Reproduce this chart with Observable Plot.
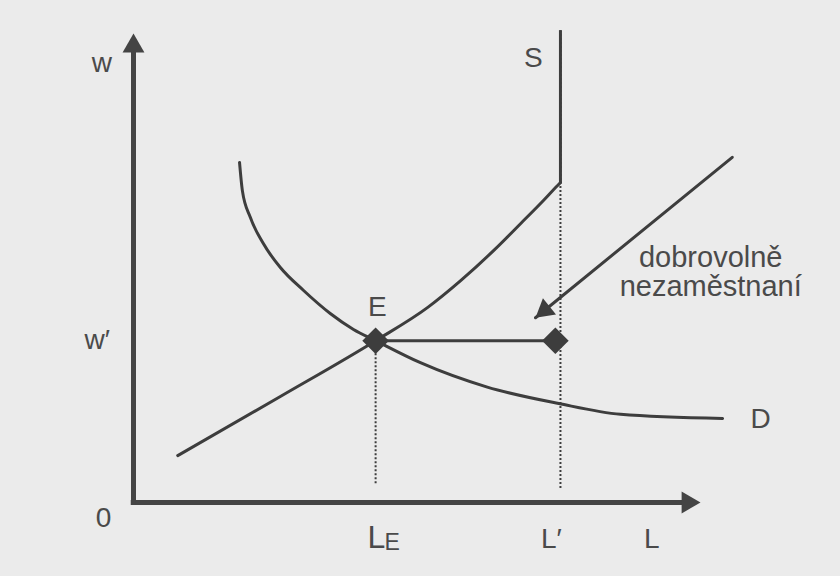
<!DOCTYPE html>
<html><head><meta charset="utf-8">
<script src="https://cdn.jsdelivr.net/npm/d3@7"></script>
<script src="https://cdn.jsdelivr.net/npm/@observablehq/plot@0.6"></script>
<style>
body{margin:0;background:#ebebeb;}
#chart svg{display:block;font-family:"Liberation Sans",Arial,sans-serif;}
</style>
</head><body><div id="chart"></div>
<script>
// key values (abstract units: L on x, w on y, 0..100)
const LE = 42.7, Lp = 75.3, wE = 34.5, LpMark = 74.4;
// supply curve S (upward part) and its vertical part at L'
const supplyL = [7.8, 25.9, 42.7, 51.9, 57.7, 63.5, 68.3, 72.3, 74.8, 75.3];
const supplyW = [10.0, 22.6, 34.5, 41.6, 47.3, 53.7, 59.5, 64.4, 67.6, 68.2];
const supplyTopW = 100.6;
// demand curve D
const demandL = [18.7, 19.2, 20.6, 22.9, 25.9, 30.0, 34.7, 38.8, 42.7, 50.6, 62.4, 75.0, 85.9, 103.9];
const demandW = [72.5, 66.5, 60.8, 55.2, 50.1, 45.2, 40.3, 36.9, 34.5, 29.8, 24.6, 21.1, 18.8, 17.9];
// pointer arrow for "dobrovolně nezaměstnaní"
const pointerL = [105.6, 70.9];
const pointerW = [73.6, 39.4];
// labels
const labelText = ["w", "w′", "0", "E", "S", "D", "L′", "L"];
const labelL = [-5.6, -6.4, -5.3, 43.0, 70.5, 110.6, 73.7, 91.4];
const labelW = [91.7, 32.8, -5.3, 39.7, 92.8, 15.8, -9.6, -9.6];
const noteLines = ["dobrovolně", "nezaměstnaní"];
const noteL = 101.8, noteW = [50.3, 44.1];

const ink = "#3d3d3d", txt = "#4a4a4a";
const supply = supplyL.map((x, i) => ({x, y: supplyW[i]}));
const demand = demandL.map((x, i) => ({x, y: demandW[i]}));
const labels = labelText.map((t, i) => ({t, x: labelL[i], y: labelW[i]}));
const pointer = pointerL.map((x, i) => ({x, y: pointerW[i]}));

const chart = Plot.plot({
  width: 840, height: 576,
  marginLeft: 133, marginRight: 140, marginTop: 33, marginBottom: 74,
  x: {domain: [0, 100], axis: null},
  y: {domain: [0, 100], axis: null},
  style: {background: "#ebebeb", color: txt},
  marks: [
    // dotted guides
    Plot.ruleX([LE], {y1: 4.0, y2: wE, stroke: ink, strokeWidth: 2, strokeDasharray: "2,2"}),
    Plot.ruleX([Lp], {y1: 3.0, y2: supplyTopW, stroke: ink, strokeWidth: 2, strokeDasharray: "2,2"}),
    // axes
    Plot.ruleX([0], {y1: 0, y2: 97, stroke: "#444", strokeWidth: 5}),
    Plot.ruleY([0], {x1: 0, x2: 97, stroke: "#444", strokeWidth: 5}),
    Plot.ruleY([0], {x1: -0.4, x2: 0.4, stroke: "#444", strokeWidth: 5}),
    Plot.dot([{x: 0, y: 100}], {x: "x", y: "y", symbol: "triangle", r: 8.1, fill: "#444", stroke: "none", dy: 12.6}),
    Plot.dot([{x: 100, y: 0}], {x: "x", y: "y", symbol: "triangle", r: 8.1, fill: "#444", stroke: "none", dx: -12.6, rotate: 90}),
    // curves
    Plot.line(demand, {x: "x", y: "y", curve: "monotone-x", stroke: ink, strokeWidth: 3}),
    Plot.line(supply, {x: "x", y: "y", curve: "monotone-x", stroke: ink, strokeWidth: 3}),
    Plot.ruleX([Lp], {y1: supplyW[supplyW.length - 1], y2: supplyTopW, stroke: ink, strokeWidth: 3}),
    // horizontal segment at w'
    Plot.ruleY([wE], {x1: LE, x2: LpMark, stroke: ink, strokeWidth: 3}),
    Plot.dot([{x: LE, y: wE}, {x: LpMark, y: wE}], {x: "x", y: "y", symbol: "diamond2", r: 12, fill: ink, stroke: "none"}),
    // pointer arrow
    Plot.line(pointer, {x: "x", y: "y", stroke: ink, strokeWidth: 3}),
    Plot.dot([pointer[1]], {x: "x", y: "y", symbol: "triangle", r: 7.7, fill: ink, stroke: "none", rotate: -129, dx: 9.3, dy: -7.6}),
    // labels
    Plot.text(labels, {x: "x", y: "y", text: "t", fontSize: 28, lineAnchor: "bottom", fill: txt}),
    Plot.text(["L"], {x: LE, y: -9.6, text: d => d, fontSize: 32, textAnchor: "start", lineAnchor: "bottom", dx: -8, fill: txt}),
    Plot.text(["E"], {x: LE, y: -10.2, text: d => d, fontSize: 23, textAnchor: "start", lineAnchor: "bottom", dx: 9, fill: txt}),
    Plot.text(noteLines, {x: noteL, y: (d, i) => noteW[i], text: d => d, fontSize: 29, lineAnchor: "bottom", fill: txt})
  ]
});
document.getElementById("chart").append(chart);
</script>
</body></html>
